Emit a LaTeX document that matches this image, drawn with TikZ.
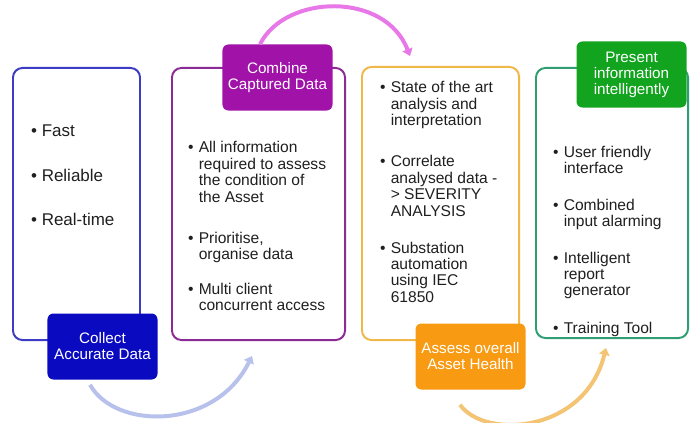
\documentclass[tikz,border=0pt]{standalone}
\usepackage{fontspec}
\setmainfont{Liberation Sans}
\usetikzlibrary{calc,arrows.meta}

\definecolor{collectline}{HTML}{3C3CC4}
\definecolor{collectfill}{HTML}{0A0AC0}
\definecolor{combineline}{HTML}{8C2A96}
\definecolor{combinefill}{HTML}{A012A8}
\definecolor{assessline}{HTML}{F0B848}
\definecolor{assessfill}{HTML}{F89A12}
\definecolor{presentline}{HTML}{2F9E72}
\definecolor{presentfill}{HTML}{12A41E}
\definecolor{bluearc}{HTML}{B8C0EC}
\definecolor{pinkarc}{HTML}{E878E8}
\definecolor{goldarc}{HTML}{F2C474}

\newcommand\txtfont{\fontsize{13.3}{14}\selectfont}
\newcommand\bigtxtfont{\fontsize{14.5}{15}\selectfont}
\newcommand\ttlfont{\fontsize{13}{13.6}\selectfont}
\newcommand\itm[1]{\makebox[9pt][l]{\textbullet}\begin{tabular}[t]{@{}l@{}}#1\end{tabular}}

\tikzset{
	frame/.style={draw, line width=1.7pt, rounded corners=8pt, inner sep=0pt},
	title/.style={rounded corners=5pt, text=white, align=center, inner sep=0pt,
		minimum width=3.3cm, minimum height=1.98cm, font=\ttlfont},
	item/.style={anchor=base west, inner sep=0pt, text=black!88, font=\txtfont},
	bigitem/.style={item, font=\bigtxtfont},
	cyclearrow/.style={line width=3.4pt, -{Triangle[length=6pt,width=9pt]}}
}

\begin{document}
\begin{tikzpicture}[x=0.03cm, y=-0.03cm]
			%%%%% START %%%%%
			\useasboundingbox (0, 0) rectangle (694, 423);
			
			\node[frame, draw=collectline, minimum width=3.81cm, minimum height=8.16cm] (collectframe) at (76.5, 204) {};
			\node[frame, draw=combineline, minimum width=5.19cm, minimum height=8.16cm] (combineframe) at (258.5, 204) {};
			\node[frame, draw=assessline, minimum width=4.71cm, minimum height=8.19cm] (assessframe) at (440.5, 203.5) {};
			\node[frame, draw=presentline, minimum width=4.56cm, minimum height=8.1cm] (presentframe) at (612, 203) {};
			
			\node[title, fill=collectfill] (collect) at (102.5, 346.5) {Collect\\Accurate Data};
			\node[title, fill=combinefill] (combine) at (277.5, 77.5) {Combine\\Captured Data};
			\node[title, fill=assessfill] (assess) at (470.5, 356.5) {Assess overall\\Asset Health};
			\node[title, fill=presentfill] (present) at (631.5, 74.5) {Present\\information\\intelligently};
			
			\draw[cyclearrow, bluearc] ($(collect.south)+(-12.5, 5)$) .. controls +(25, 45) and +(-37, 75) .. ($(combineframe.south)+(-6.5, 15)$);
			\draw[cyclearrow, pinkarc] ($(combine.north)+(-17.5, 0)$) .. controls +(25, -50) and +(-25, -65) .. ($(assessframe.north)+(-30.5, -10)$);
			\draw[cyclearrow, goldarc] ($(assess.south)+(-10.5, 15)$) .. controls +(25, 35) and +(-21, 85) .. ($(presentframe.south)+(-6, 9)$);
			
			\node[bigitem] (fast) at (31, 137) {\itm{Fast}};
			\node[bigitem] (reliable) at (31, 181) {\itm{Reliable}};
			\node[bigitem] (realtime) at (31, 225) {\itm{Real-time}};
			
			\node[item] (allinfo) at (188, 153) {\itm{All information\\required to assess\\the condition of\\the Asset}};
			\node[item] (prioritise) at (188, 243) {\itm{Prioritise,\\organise data}};
			\node[item] (multiclient) at (188, 294) {\itm{Multi client\\concurrent access}};
			
			\node[item] (stateart) at (380, 93) {\itm{State of the art\\analysis and\\interpretation}};
			\node[item] (correlate) at (380, 167) {\itm{Correlate\\analysed data -\\> SEVERITY\\ANALYSIS}};
			\node[item] (substation) at (380, 253) {\itm{Substation\\automation\\using IEC\\61850}};
			
			\node[item] (userfriendly) at (553, 157) {\itm{User friendly\\interface}};
			\node[item] (combined) at (553, 210) {\itm{Combined\\input alarming}};
			\node[item] (intelligent) at (553, 263) {\itm{Intelligent\\report\\generator}};
			\node[item] (training) at (553, 333) {\itm{Training Tool}};
			%%%%% END %%%%%
\end{tikzpicture}
\end{document}
